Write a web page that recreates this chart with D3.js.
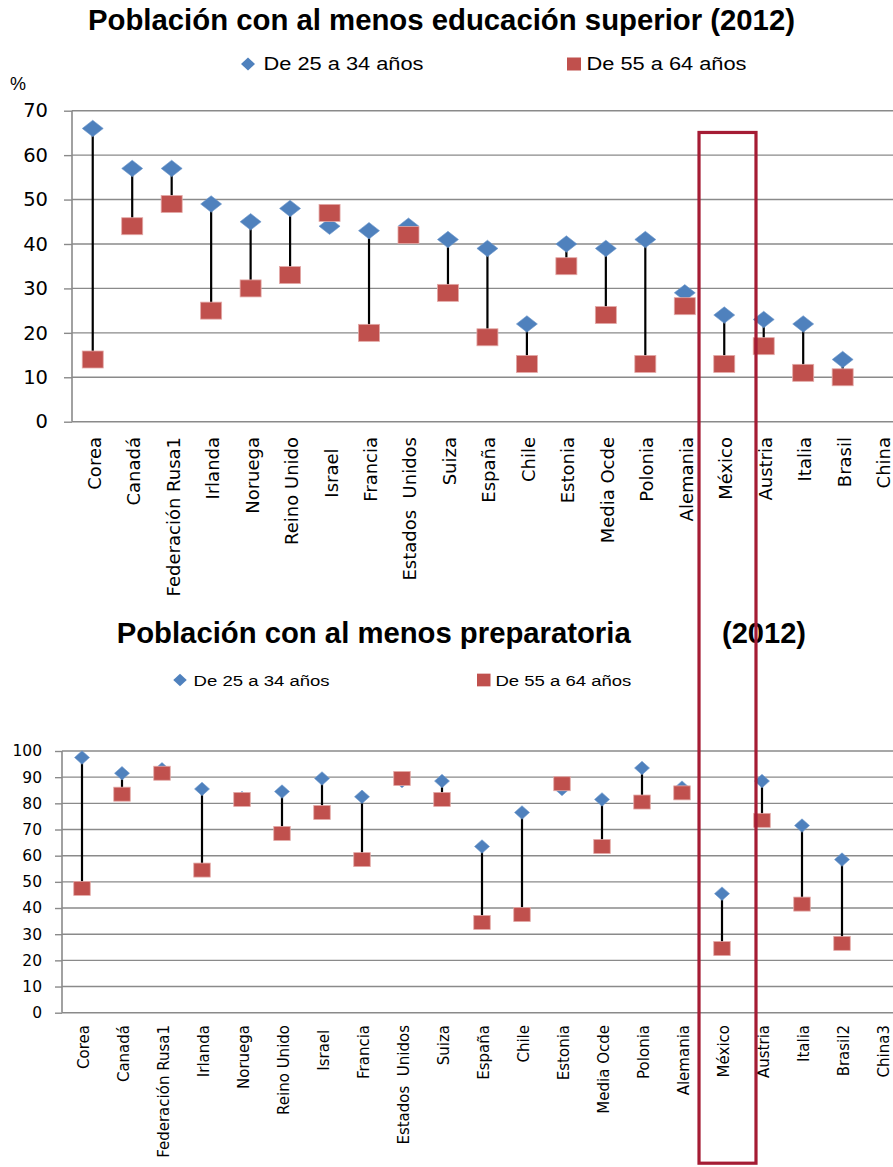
<!DOCTYPE html>
<html>
<head>
<meta charset="utf-8">
<script src="https://cdn.jsdelivr.net/npm/d3@7"></script>
<style>
  html, body { margin: 0; padding: 0; background: #fff; overflow: hidden; }
  svg { display: block; }
  text { white-space: pre; }
</style>
</head>
<body>
<script>
// ---------- DATA ----------
const catsTop = ["Corea","Canadá","Federación Rusa1","Irlanda","Noruega","Reino Unido","Israel  ","Francia","Estados  Unidos","Suiza","España","Chile","Estonia","Media Ocde","Polonia","Alemania","México","Austria","Italia","Brasil","China"];
const youngTop = [66,57,57,49,45,48,44,43,44,41,39,22,40,39,41,29,24,23,22,14,null];
const oldTop   = [14,44,49,25,30,33,47,20,42,29,19,13,35,24,13,26,13,17,11,10,null];
const ticksTop = [0,10,20,30,40,50,60,70];

const catsBot = ["Corea","Canadá","Federación Rusa1","Irlanda","Noruega","Reino Unido","Israel ","Francia","Estados  Unidos","Suiza","España","Chile","Estonia","Media Ocde","Polonia","Alemania","México","Austria","Italia","Brasil2","China3"];
const youngBot = [97.5,91.5,93,85.5,82,84.5,89.5,82.5,88.5,88.5,63.5,76.5,85.5,81.5,93.5,86,45.5,88.5,71.5,58.5,null];
const oldBot   = [47.5,83.5,91.5,54.5,81.5,68.5,76.5,58.5,89.5,81.5,34.5,37.5,87.5,63.5,80.5,84,24.5,73.5,41.5,26.5,null];
const ticksBot = [0,10,20,30,40,50,60,70,80,90,100];

const titleTop = "Población con al menos educación superior (2012)";
const titleBotA = "Población con al menos preparatoria";
const titleBotB = "(2012)";
const legendLabels = ["De 25 a 34 años", "De 55 a 64 años"];
const unitLabel = "%";
const highlightCat = "México";

// ---------- STYLE ----------
const W = 893, H = 1167;
const BLUE = "#4F81BD", RED = "#C0504D", GRID = "#8a8a8a", BOX = "#A51C34";

const svg = d3.select("body").append("svg").attr("width", W).attr("height", H);

function drawChart(cfg) {
  const g = svg.append("g");
  const x = d3.scaleBand().domain(cfg.cats).range(cfg.xRange).paddingInner(0).paddingOuter(0);
  const y = d3.scaleLinear().domain(cfg.yDomain).range(cfg.yRange);

  // gridlines
  g.append("g").selectAll("line").data(cfg.ticks).join("line")
    .attr("x1", cfg.axisX).attr("x2", W)
    .attr("y1", d => y(d)).attr("y2", d => y(d))
    .attr("stroke", GRID).attr("stroke-width", 1.4);

  // y axis
  const ya = g.append("g").attr("transform", `translate(${cfg.axisX},0)`)
    .call(d3.axisLeft(y).tickValues(cfg.ticks).tickSize(cfg.tickLen).tickPadding(cfg.tickPad).tickFormat(d3.format("d")));
  ya.select(".domain").attr("stroke", GRID).attr("stroke-width", 1.6)
    .attr("d", `M0,${y(0)}V${y(cfg.yDomain[1])}`);
  ya.selectAll(".tick line").attr("stroke", GRID).attr("stroke-width", 1.4);
  ya.selectAll(".tick text").attr("font-family", "DejaVu Sans").attr("font-size", cfg.yFont).attr("fill", "#000");

  // x axis labels
  const xa = g.append("g").attr("transform", `translate(0,${y(0)})`)
    .call(d3.axisBottom(x).tickSize(0).tickPadding(0));
  xa.select(".domain").remove();
  xa.selectAll(".tick text")
    .attr("font-family", "DejaVu Sans").attr("font-size", cfg.xFont).attr("fill", "#000")
    .attr("text-anchor", "end")
    .attr("transform", `translate(${cfg.xLabelDx},${cfg.xLabelTop - y(0)}) rotate(-90)`)
    .attr("y", 0).attr("dy", "0.36em");

  const pts = cfg.cats.map((c, i) => ({c, a: cfg.young[i], b: cfg.old[i]})).filter(d => d.a != null);
  const cx = d => x(d.c) + x.bandwidth() / 2;

  // high-low lines
  g.append("g").selectAll("line").data(pts).join("line")
    .attr("x1", cx).attr("x2", cx)
    .attr("y1", d => y(d.a)).attr("y2", d => y(d.b))
    .attr("stroke", "#000").attr("stroke-width", 2.2);

  // diamonds
  const dw = cfg.diamond[0] / 2, dh = cfg.diamond[1] / 2;
  g.append("g").selectAll("path").data(pts).join("path")
    .attr("d", d => `M${cx(d)},${y(d.a) - dh}L${cx(d) + dw},${y(d.a)}L${cx(d)},${y(d.a) + dh}L${cx(d) - dw},${y(d.a)}Z`)
    .attr("fill", BLUE).attr("stroke", "#6f98cc").attr("stroke-width", 0.6);

  // squares
  const sw = cfg.square[0], sh = cfg.square[1];
  g.append("g").selectAll("rect").data(pts).join("rect")
    .attr("x", d => cx(d) - sw / 2).attr("y", d => y(d.b) - sh / 2)
    .attr("width", sw).attr("height", sh)
    .attr("fill", RED).attr("stroke", "#e3a9a7").attr("stroke-width", 0.8);

  // title
  cfg.titles.forEach(t => {
    svg.append("text").attr("x", t.x).attr("y", t.y)
      .attr("font-family", "Liberation Sans, Arial, sans-serif").attr("font-weight", "bold")
      .attr("font-size", t.size).attr("textLength", t.len).attr("lengthAdjust", "spacingAndGlyphs")
      .attr("fill", "#000").text(t.text);
  });

  // legend
  const L = cfg.legend;
  const lg = svg.append("g");
  lg.append("path")
    .attr("d", `M${L.dx},${L.y - L.mh / 2}L${L.dx + L.mw / 2},${L.y}L${L.dx},${L.y + L.mh / 2}L${L.dx - L.mw / 2},${L.y}Z`)
    .attr("fill", BLUE);
  lg.append("rect").attr("x", L.sx).attr("y", L.y - L.mh / 2).attr("width", L.mw).attr("height", L.mh).attr("fill", RED);
  [[L.t1x, legendLabels[0]], [L.t2x, legendLabels[1]]].forEach(([tx, s]) => {
    lg.append("text").attr("x", tx).attr("y", L.base)
      .attr("font-family", "Liberation Sans Narrow, Liberation Sans, Arial, sans-serif")
      .attr("font-size", L.size).attr("textLength", L.len).attr("lengthAdjust", "spacingAndGlyphs")
      .attr("fill", "#000").text(s);
  });
  return {x, y};
}

const chartTop = drawChart({
  cats: catsTop, young: youngTop, old: oldTop, ticks: ticksTop,
  xRange: [73, 73 + 21 * 39.47], yDomain: [0, 70], yRange: [421.7, 110.7],
  axisX: 72, tickLen: 8, tickPad: 16, yFont: 19.5, xFont: 18, xLabelTop: 437, xLabelDx: 1.5,
  diamond: [21, 16.5], square: [21, 17],
  titles: [{x: 88, y: 30, size: 29.5, len: 707, text: titleTop}],
  legend: {dx: 248, sx: 567, y: 64, mw: 14, mh: 13, t1x: 263.5, t2x: 586.5, base: 70, size: 17.5, len: 160}
});

svg.append("text").attr("x", 10).attr("y", 90)
  .attr("font-family", "Liberation Sans, Arial, sans-serif").attr("font-size", 18)
  .attr("fill", "#000").text(unitLabel);

const chartBot = drawChart({
  cats: catsBot, young: youngBot, old: oldBot, ticks: ticksBot,
  xRange: [62, 62 + 21 * 40], yDomain: [0, 100], yRange: [1012.7, 751],
  axisX: 62, tickLen: 7, tickPad: 13, yFont: 15.5, xFont: 15, xLabelTop: 1025, xLabelDx: 2,
  diamond: [15, 13.5], square: [16.5, 14],
  titles: [{x: 116.7, y: 642.7, size: 29.3, len: 514, text: titleBotA},
           {x: 722, y: 642.7, size: 29.3, len: 84, text: titleBotB}],
  legend: {dx: 180, sx: 477, y: 680, mw: 13.5, mh: 12.7, t1x: 193.6, t2x: 495.4, base: 686, size: 15.5, len: 136}
});

// highlight box around México (spans both charts)
const hx0 = chartTop.x(highlightCat), hx1 = hx0 + chartTop.x.bandwidth();
svg.append("rect")
  .attr("x", hx0 - 5.5).attr("y", chartTop.y(65.1))
  .attr("width", (hx1 - hx0) + 17.5).attr("height", chartBot.y(0) + 150.5 - chartTop.y(65.1))
  .attr("fill", "none").attr("stroke", BOX).attr("stroke-width", 3.2);
</script>
</body>
</html>
